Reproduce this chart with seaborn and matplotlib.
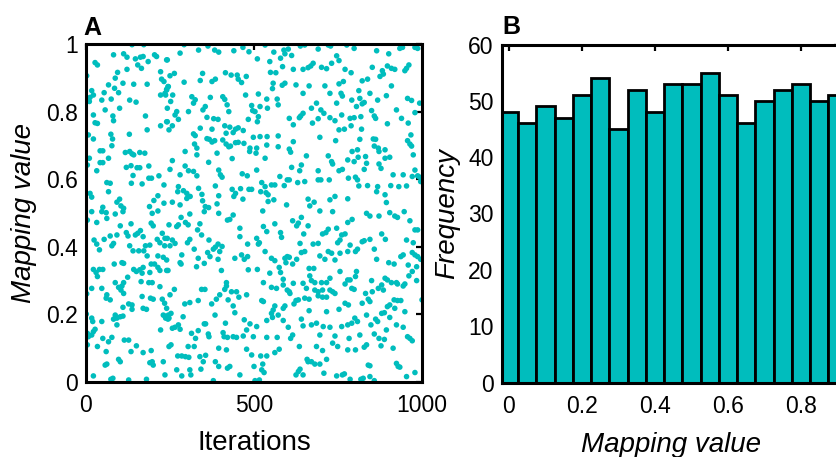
import matplotlib
matplotlib.use("Agg")
import matplotlib.pyplot as plt
import seaborn as sns
import numpy as np
import pandas as pd

sns.set_style("white")
plt.rcParams['font.family'] = ['Liberation Sans', 'DejaVu Sans']
plt.rcParams['text.color'] = 'black'
plt.rcParams['axes.labelcolor'] = 'black'
plt.rcParams['xtick.color'] = 'black'
plt.rcParams['ytick.color'] = 'black'

TEAL = "#00BDBD"

# ---------------- Panel A: (iteration, mapping value) ----------------
upper_a = [(137, .998), (172, .998), (82, .968), (112, .971), (122, .961), (147, .956), (162, .961), (170, .963),
           (204, .968), (210, .963), (242, .953), (27, .945), (34, .938), (154, .938), (165, .928), (185, .948),
           (122, .925), (94, .916), (222, .918), (2, .906), (87, .899), (225, .896), (232, .889), (110, .884),
           (142, .881), (182, .881), (67, .879), (244, .874), (85, .869), (240, .864), (17, .862), (97, .856),
           (54, .856), (22, .849), (12, .842), (222, .849), (237, .849), (47, .834), (75, .837), (130, .834),
           (149, .828), (10, .830), (100, .810), (57, .805), (242, .810), (22, .790), (80, .787), (177, .787),
           (82, .773), (27, .767), (34, .765), (242, .770), (222, .758), (182, .746), (247, .746), (7, .731),
           (74, .733), (129, .733), (22, .719), (79, .719), (77, .699), (42, .684), (50, .684), (117, .679),
           (130, .682), (137, .675), (142, .672), (160, .679), (175, .677), (10, .662), (67, .662), (42, .649),
           (50, .649), (4, .642), (120, .635), (134, .640), (152, .634), (160, .634), (187, .639), (32, .625),
           (140, .611), (187, .603), (195, .603), (217, .610), (62, .590), (72, .588), (135, .588), (167, .586),
           (232, .583), (12, .558), (67, .563), (214, .551), (17, .547), (202, .537), (100, .541), (92, .532),
           (232, .529), (50, .517), (104, .521), (112, .514), (189, .519)]

upper_b = [(292, .998), (363, .994), (467, .990), (280, .973), (335, .982), (383, .982), (395, .976), (440, .980),
           (485, .977), (240, .953), (263, .913), (250, .906), (347, .913), (415, .915), (432, .908), (450, .908),
           (477, .904), (453, .896), (340, .892), (375, .889), (385, .896), (292, .887), (463, .886), (245, .874),
           (240, .866), (235, .854), (258, .849), (315, .844), (370, .842), (475, .849), (407, .844), (413, .836),
           (325, .835), (252, .830), (320, .825), (420, .820), (355, .815), (348, .805), (305, .800), (270, .800),
           (265, .790), (425, .800), (275, .777), (360, .783), (380, .779), (393, .777), (240, .770), (483, .777),
           (257, .758), (413, .758), (428, .754), (453, .752), (445, .748), (340, .751), (375, .748), (438, .738),
           (468, .744), (320, .734), (325, .729), (417, .736), (367, .718), (383, .714), (375, .710), (407, .716),
           (360, .720), (445, .708), (453, .709), (470, .706), (430, .698), (323, .704), (330, .692), (417, .704),
           (425, .696), (295, .682), (390, .677), (487, .682), (330, .672), (435, .661), (257, .655), (365, .650),
           (295, .639), (250, .629), (305, .625), (395, .627), (320, .623), (400, .613), (465, .616), (330, .610),
           (405, .606), (480, .610), (280, .613), (385, .580), (335, .573), (435, .570), (460, .572), (275, .578),
           (485, .570), (290, .566), (273, .563), (300, .558), (310, .549), (300, .543), (345, .555), (445, .558),
           (440, .549), (395, .551), (467, .541), (257, .532), (280, .524), (347, .536), (390, .527), (355, .519),
           (365, .516)]

upper_c = [(533, .997), (638, .994), (651, .997), (721, .997), (728, .994), (559, .976), (589, .982), (602, .985),
           (592, .971), (612, .966), (691, .985), (510, .956), (547, .948), (579, .958), (676, .943), (585, .933),
           (669, .935), (661, .930), (617, .925), (646, .925), (701, .931), (716, .927), (549, .916), (565, .915),
           (731, .943), (557, .884), (592, .884), (584, .878), (555, .868), (625, .879), (664, .876), (711, .876),
           (513, .852), (646, .854), (538, .837), (569, .837), (726, .854), (686, .825), (518, .815), (540, .810),
           (572, .820), (493, .818), (496, .803), (503, .800), (513, .785), (671, .810), (699, .805), (708, .795),
           (646, .795), (639, .787), (635, .782), (605, .780), (691, .779), (726, .782), (510, .770), (674, .766),
           (617, .761), (498, .724), (518, .726), (539, .726), (572, .728), (617, .711), (696, .724), (488, .692),
           (508, .692), (538, .701), (572, .696), (506, .677), (605, .689), (609, .680), (656, .669), (533, .662),
           (721, .669), (731, .652), (734, .645), (641, .642), (612, .635), (636, .625), (508, .627), (691, .625),
           (577, .608), (599, .598), (605, .598), (630, .590), (651, .593), (691, .598), (699, .598), (724, .598),
           (523, .590), (533, .578), (552, .583), (562, .583), (590, .581), (493, .570), (520, .563), (536, .560),
           (542, .554), (559, .539), (542, .534), (661, .541), (666, .521), (679, .532), (726, .539), (597, .524)]

upper_d = [(776, .997), (798, .987), (865, .980), (901, .971), (934, .987), (942, .990), (979, .990), (987, .987),
           (746, .965), (753, .951), (771, .925), (789, .915), (852, .931), (882, .921), (897, .935), (909, .928),
           (919, .925), (949, .921), (954, .928), (961, .938), (875, .904), (885, .911), (822, .891), (838, .896),
           (753, .882), (766, .889), (909, .876), (759, .854), (763, .846), (812, .862), (845, .854), (894, .847),
           (791, .834), (815, .839), (828, .827), (822, .823), (868, .834), (957, .839), (969, .833), (993, .825),
           (746, .825), (805, .815), (850, .803), (924, .805), (761, .790), (858, .787), (862, .780), (979, .797),
           (741, .773), (786, .780), (798, .782), (818, .785), (939, .780), (959, .766), (897, .764), (753, .746),
           (769, .748), (789, .758), (820, .748), (967, .731), (815, .718), (855, .719), (862, .718), (957, .714),
           (964, .704), (969, .698), (743, .714), (858, .698), (870, .692), (872, .682), (890, .687), (792, .682),
           (808, .687), (810, .665), (832, .667), (974, .672), (779, .657), (798, .652), (890, .662), (904, .665),
           (835, .647), (872, .645), (878, .632), (763, .629), (753, .625), (828, .629), (979, .627), (944, .613),
           (914, .613), (971, .608), (987, .610), (993, .606), (781, .603), (802, .606), (808, .598), (996, .593),
           (812, .580), (838, .581), (868, .578), (907, .581), (931, .578), (954, .580), (865, .563), (890, .554),
           (741, .549), (779, .542), (894, .531)]

lower_a = [(17, .504), (47, .504), (60, .501), (87, .497), (110, .504), (197, .499), (214, .506), (4, .479),
           (32, .472), (62, .484), (102, .462), (134, .468), (194, .470), (200, .462), (247, .465), (120, .442),
           (125, .432), (162, .448), (154, .440), (147, .435), (170, .430), (92, .435), (72, .432), (227, .440),
           (24, .420), (54, .422), (32, .408), (40, .391), (82, .410), (77, .403), (130, .403), (140, .388),
           (157, .388), (172, .388), (177, .403), (190, .405), (212, .422), (242, .425), (220, .412), (234, .403),
           (182, .373), (214, .373), (230, .369), (240, .361), (22, .333), (40, .333), (30, .324), (34, .312),
           (50, .333), (84, .349), (107, .353), (112, .351), (142, .333), (150, .327), (160, .332), (170, .339),
           (167, .322), (190, .324), (204, .349), (214, .339), (194, .349), (220, .330), (244, .330), (124, .310),
           (164, .297), (187, .294), (197, .294), (112, .294), (87, .294), (220, .282), (17, .277), (47, .277),
           (62, .258), (60, .248), (97, .280), (104, .272), (107, .284), (112, .262), (72, .243), (167, .253),
           (192, .248), (200, .245), (227, .245), (234, .233), (2, .261), (110, .221), (127, .231), (137, .228),
           (137, .215), (170, .218), (180, .215), (1, .201), (17, .189), (20, .179), (47, .179), (87, .198),
           (92, .189), (102, .193), (110, .195), (82, .186), (92, .169), (230, .198), (237, .189), (244, .186),
           (27, .156), (4, .144), (17, .139), (22, .149), (7, .134), (222, .154), (50, .129), (67, .119),
           (77, .132), (114, .124), (127, .124), (34, .105), (4, .110), (60, .090), (134, .090), (150, .107),
           (170, .087), (194, .093), (97, .067), (102, .060), (57, .050), (62, .053), (190, .057), (200, .050),
           (197, .060), (230, .060), (22, .018), (74, .008), (80, .011), (127, .006), (180, .008)]

lower_b = [(283, .487), (309, .497), (352, .504), (395, .499), (438, .494), (421, .479), (428, .481), (275, .465),
           (270, .460), (296, .472), (304, .465), (339, .468), (332, .450), (344, .435), (458, .455), (458, .430),
           (235, .425), (250, .403), (257, .420), (265, .410), (309, .422), (302, .412), (366, .420), (393, .408),
           (385, .399), (405, .401), (398, .386), (379, .393), (362, .383), (322, .393), (285, .376), (280, .353),
           (283, .349), (334, .366), (352, .351), (329, .341), (369, .371), (393, .363), (443, .366), (463, .376),
           (471, .363), (481, .371), (483, .332), (403, .330), (240, .330), (481, .408), (418, .294), (418, .284),
           (413, .274), (344, .274), (354, .274), (263, .274), (250, .258), (433, .267), (448, .267), (455, .251),
           (478, .258), (398, .258), (388, .245), (374, .231), (423, .243), (438, .225), (443, .205), (309, .235),
           (294, .231), (334, .241), (240, .218), (235, .195), (245, .198), (247, .189), (253, .203), (289, .193),
           (384, .198), (415, .174), (471, .184), (265, .162), (257, .159), (280, .156), (275, .169), (352, .172),
           (356, .172), (334, .152), (314, .144), (326, .129), (364, .142), (366, .134), (408, .146), (411, .134),
           (421, .132), (438, .134), (448, .132), (468, .136), (478, .154), (253, .110), (247, .105), (304, .105),
           (322, .105), (395, .100), (418, .095), (478, .097), (273, .077), (285, .077), (296, .075), (306, .073),
           (339, .075), (356, .079), (349, .060), (385, .060), (395, .046), (421, .041), (428, .046), (458, .021),
           (270, .036), (285, .018), (309, .036), (312, .021), (342, .038), (379, .004), (235, .021)]

lower_c = [(526, .506), (696, .506), (734, .504), (641, .487), (615, .477), (562, .468), (528, .460), (538, .445),
           (579, .442), (582, .428), (627, .462), (632, .470), (661, .462), (648, .438), (714, .442), (721, .452),
           (704, .438), (513, .408), (508, .425), (516, .412), (533, .386), (552, .366), (562, .359), (592, .366),
           (599, .371), (605, .369), (595, .353), (615, .349), (627, .363), (641, .383), (651, .386), (637, .410),
           (676, .408), (691, .410), (721, .386), (731, .381), (711, .363), (696, .373), (510, .333), (547, .322),
           (575, .339), (579, .324), (587, .304), (587, .287), (617, .292), (646, .292), (664, .336), (678, .336),
           (666, .314), (671, .300), (681, .294), (701, .294), (716, .294), (681, .272), (691, .267), (704, .272),
           (726, .272), (734, .267), (691, .255), (704, .251), (716, .251), (651, .248), (664, .245), (656, .277),
           (726, .307), (528, .294), (552, .280), (567, .277), (599, .272), (605, .267), (607, .262), (523, .241),
           (528, .238), (625, .241), (632, .243), (619, .231), (592, .225), (587, .218), (664, .211), (562, .225),
           (557, .213), (552, .203), (555, .191), (572, .198), (587, .182), (538, .182), (508, .164), (716, .208),
           (641, .186), (646, .166), (671, .169), (686, .174), (706, .164), (726, .162), (488, .172), (602, .162),
           (696, .139), (615, .139), (609, .129), (538, .132), (569, .132), (498, .134), (635, .105), (686, .105),
           (734, .115), (704, .093), (658, .067), (661, .060), (671, .060), (681, .053), (696, .053), (716, .067),
           (562, .087), (575, .097), (538, .077), (520, .077), (493, .080), (500, .046), (526, .053), (523, .036),
           (530, .028), (637, .038), (632, .031), (625, .021), (646, .021), (708, .026), (516, .006), (503, .004)]

lower_d = [(835, .499), (845, .491), (872, .491), (904, .501), (919, .491), (927, .487), (947, .504), (964, .477),
           (979, .450), (987, .450), (779, .472), (792, .481), (746, .455), (761, .435), (771, .438), (756, .420),
           (749, .412), (786, .405), (779, .386), (756, .381), (802, .386), (808, .393), (822, .415), (828, .418),
           (845, .422), (880, .438), (891, .422), (858, .393), (865, .363), (954, .420), (974, .412), (937, .371),
           (944, .376), (971, .383), (979, .376), (987, .371), (996, .363), (741, .361), (756, .327), (805, .327),
           (802, .312), (779, .302), (786, .302), (771, .290), (791, .277), (798, .274), (850, .300), (901, .353),
           (917, .349), (959, .346), (971, .327), (984, .341), (961, .314), (949, .290), (944, .284), (890, .307),
           (897, .302), (909, .294), (924, .294), (927, .290), (880, .287), (885, .272), (870, .277), (832, .262),
           (852, .267), (840, .245), (845, .238), (822, .233), (771, .233), (781, .228), (741, .262), (984, .300),
           (1000, .243), (917, .243), (927, .241), (937, .241), (919, .218), (904, .228), (897, .223), (949, .208),
           (753, .215), (835, .198), (880, .203), (888, .205), (904, .191), (868, .179), (862, .186), (800, .189),
           (808, .179), (791, .174), (779, .169), (761, .164), (848, .169), (924, .169), (944, .162), (894, .154),
           (741, .136), (815, .139), (783, .129), (858, .142), (872, .129), (888, .126), (835, .110), (828, .103),
           (878, .107), (914, .100), (957, .134), (964, .129), (971, .122), (749, .105), (779, .095), (802, .095),
           (840, .050), (845, .048), (924, .055), (929, .046), (934, .044), (746, .018), (763, .021), (769, .024),
           (786, .008), (818, .008), (825, .011), (845, .016), (858, .004), (954, .016), (979, .028)]

# ---------------- Panel B: histogram counts ----------------
bin_centers = [0.00, 0.05, 0.10, 0.15, 0.20, 0.25, 0.30, 0.35, 0.40, 0.45,
               0.50, 0.55, 0.60, 0.65, 0.70, 0.75, 0.80, 0.85, 0.90]
bin_counts = [48, 46, 49, 47, 51, 54, 45, 52, 48, 53,
              53, 55, 51, 46, 50, 52, 53, 50, 51]

a_xticks = [0, 500, 1000]
a_yticks = [0, 0.2, 0.4, 0.6, 0.8, 1]
a_yticklabels = ['0', '0.2', '0.4', '0.6', '0.8', '1']
b_xticks = [0, 0.2, 0.4, 0.6, 0.8]
b_xticklabels = ['0', '0.2', '0.4', '0.6', '0.8']
b_yticks = [0, 10, 20, 30, 40, 50, 60]

points = pd.DataFrame(upper_a + upper_b + upper_c + upper_d + lower_a + lower_b + lower_c + lower_d,
                      columns=['Iterations', 'Mapping value'])
hist_df = pd.DataFrame({'center': bin_centers, 'count': bin_counts})

W, H = 837, 457
fig = plt.figure(figsize=(W / 100, H / 100), dpi=100)

TICK_FS = 16.5
LABEL_FS = 20

def style_axes(ax):
    for s in ax.spines.values():
        s.set_visible(True)
        s.set_color('black')
        s.set_linewidth(2.2)
    ax.tick_params(direction='in', length=4, width=1.6, top=True, right=True,
                   labelsize=TICK_FS, colors='black')
    ax.tick_params(axis='x', pad=9)
    ax.tick_params(axis='y', pad=6)

# Panel A
ax1 = fig.add_axes([86 / W, 1 - 382 / H, 336 / W, 338 / H])
sns.scatterplot(data=points, x='Iterations', y='Mapping value', color=TEAL, s=16,
                linewidth=0, edgecolor='none', ax=ax1)
ax1.set_xlim(0, 1000)
ax1.set_ylim(0, 1)
ax1.set_xticks(a_xticks)
ax1.set_xticklabels([str(t) for t in a_xticks])
ax1.set_yticks(a_yticks)
ax1.set_yticklabels(a_yticklabels)
style_axes(ax1)
ax1.set_xlabel('Iterations', fontsize=LABEL_FS, labelpad=9, color='black')
ax1.set_ylabel('Mapping value', fontsize=LABEL_FS, style='italic', labelpad=6, color='black')

# Panel B
ax2 = fig.add_axes([502 / W, 1 - 382.5 / H, 338 / W, 338 / H])
edges = [c - 0.025 for c in bin_centers] + [bin_centers[-1] + 0.025]
sns.histplot(data=hist_df, x='center', weights='count', bins=edges, color=TEAL, alpha=1,
             edgecolor='black', linewidth=2.0, ax=ax2)
ax2.set_xlim(-0.019, -0.019 + 338 / 365)
ax2.set_ylim(0, 60)
ax2.set_xticks(b_xticks)
ax2.set_xticklabels(b_xticklabels)
ax2.set_yticks(b_yticks)
ax2.set_yticklabels([str(t) for t in b_yticks])
style_axes(ax2)
ax2.set_xlabel('Mapping value', fontsize=LABEL_FS, style='italic', labelpad=10, color='black')
ax2.set_ylabel('Frequency', fontsize=LABEL_FS, style='italic', labelpad=6, color='black')

fig.text(83 / W, 1 - 35 / H, 'A', fontsize=18, fontweight='bold', ha='left', va='baseline', color='black')
fig.text(502 / W, 1 - 34 / H, 'B', fontsize=18, fontweight='bold', ha='left', va='baseline', color='black')

fig.savefig('out.png', dpi=100)
